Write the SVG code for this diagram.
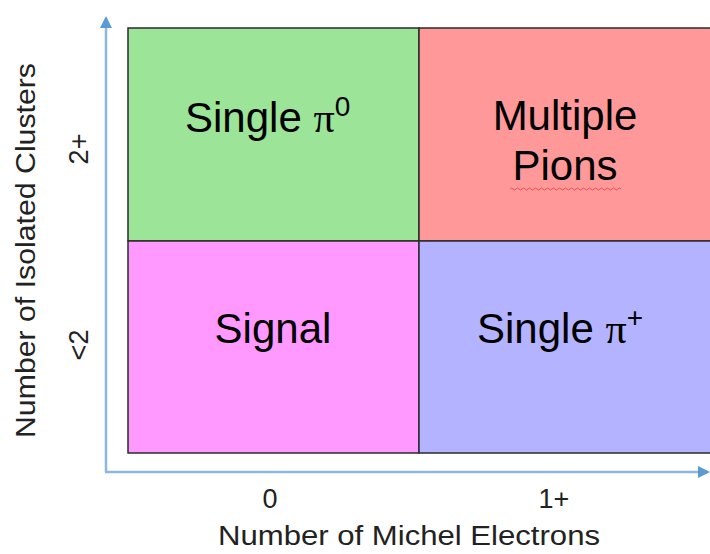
<svg xmlns="http://www.w3.org/2000/svg" width="710" height="554" viewBox="0 0 710 554">
<style>
.cell{stroke:#2b2b2b;stroke-width:1.5}
.big{font-family:"Liberation Sans",Arial,sans-serif;font-size:42px;fill:#000}
.pi{font-family:"Liberation Serif","Times New Roman",serif}
.ax{font-family:"Liberation Sans",Arial,sans-serif;font-size:27px;fill:#222}
.axis{stroke:#8DB6E3;stroke-width:2.5;fill:none}
</style>
<defs>
<marker id="arr" markerWidth="12" markerHeight="12" refX="10" refY="6" orient="auto" markerUnits="userSpaceOnUse">
<path d="M0,0 L12,6 L0,12 Z" fill="#5B9BD5"/>
</marker>
</defs>
<rect width="710" height="554" fill="#fff"/>
<g id="connectors">
<path class="axis" d="M106,472 L106,18" marker-end="url(#arr)"/>
<path class="axis" d="M105,472 L708,472" marker-end="url(#arr)"/>
</g>
<g id="single-pi0">
<rect class="cell" x="128" y="28" width="291" height="213" fill="#9BE498"/>
<text class="big" x="185" y="132">Single <tspan class="pi">π</tspan><tspan font-size="28" dy="-16">0</tspan></text>
</g>
<g id="multiple-pions">
<rect class="cell" x="419" y="28" width="295" height="213" fill="#FF9999"/>
<text class="big" x="565" y="130" text-anchor="middle">Multiple</text>
<text class="big" x="565" y="180" text-anchor="middle">Pions</text>
<path d="M510,189 q1.5,-2 3,0 t3,0 t3,0 t3,0 t3,0 t3,0 t3,0 t3,0 t3,0 t3,0 t3,0 t3,0 t3,0 t3,0 t3,0 t3,0 t3,0 t3,0 t3,0 t3,0 t3,0 t3,0 t3,0 t3,0 t3,0 t3,0 t3,0 t3,0 t3,0 t3,0 t3,0 t3,0 t3,0 t3,0 t3,0 t3,0 t3,0" fill="none" stroke="#F05050" stroke-width="1"/>
</g>
<g id="signal">
<rect class="cell" x="128" y="241" width="291" height="212" fill="#FF99FF"/>
<text class="big" x="273" y="343" text-anchor="middle">Signal</text>
</g>
<g id="single-piplus">
<rect class="cell" x="419" y="241" width="295" height="212" fill="#B3B3FF"/>
<text class="big" x="477" y="343">Single <tspan class="pi">π</tspan><tspan font-size="28" dy="-16">+</tspan></text>
</g>
<g id="axis-labels">
<text class="ax" x="270" y="508" text-anchor="middle">0</text>
<text class="ax" x="554" y="508" text-anchor="middle">1+</text>
<text class="ax" x="218" y="545" textLength="382" lengthAdjust="spacingAndGlyphs">Number of Michel Electrons</text>
<text class="ax" transform="translate(88,149) rotate(-90)" text-anchor="middle">2+</text>
<text class="ax" transform="translate(88,345) rotate(-90)" text-anchor="middle">&lt;2</text>
<text class="ax" transform="translate(35,438) rotate(-90)" textLength="375" lengthAdjust="spacingAndGlyphs">Number of Isolated Clusters</text>
</g>
</svg>
